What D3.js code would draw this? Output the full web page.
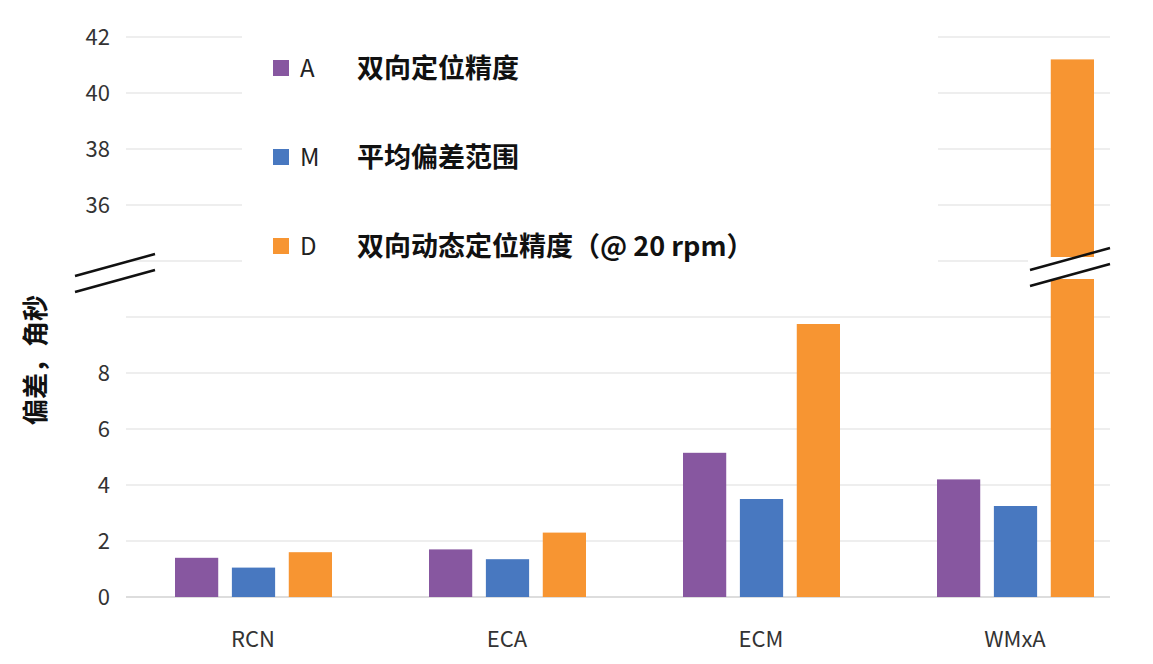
<!DOCTYPE html>
<html><head><meta charset="utf-8">
<script src="https://cdn.jsdelivr.net/npm/d3@7"></script>
<style>body{margin:0;background:#fff}text{font-family:"Noto Sans CJK SC","Noto Sans",sans-serif}</style>
</head><body><svg id="c" width="1153" height="664"></svg>
<script>
const categories = ['RCN', 'ECA', 'ECM', 'WMxA'];
const seriesKeys = ['A', 'M', 'D'];
const seriesNames = ['双向定位精度', '平均偏差范围', '双向动态定位精度（@ 20 rpm）'];
const valuesA = [1.4, 1.7, 5.15, 4.2];
const valuesM = [1.05, 1.35, 3.5, 3.25];
const valuesD = [1.6, 2.3, 9.75, 41.2];
const lowTicks = [0, 2, 4, 6, 8];
const highTicks = [36, 38, 40, 42];
const colors = ['#8757A0', '#4878C0', '#F79532'];

const svg = d3.select('#c');
// broken axis: values above the break are shifted down by 22
const gap = 22;
const disp = v => (v > 10 ? v - gap : v);
const y = d3.scaleLinear().domain([0, 20]).range([597, 37]);
const x = d3.scaleBand().domain(categories).range([126, 1142]);
const xs = d3.scaleBand().domain(seriesKeys).range([0, 157]).paddingInner(0.24);

const grids = [0, 2, 4, 6, 8, 10, 34, 36, 38, 40, 42];
svg.append('g').selectAll('line').data(grids).join('line')
  .attr('x1', 126).attr('x2', 1110)
  .attr('y1', d => y(disp(d))).attr('y2', d => y(disp(d)))
  .attr('stroke', d => d === 0 ? '#bbb' : '#ddd').attr('stroke-width', 1.2);

svg.append('g').selectAll('text').data(lowTicks.concat(highTicks)).join('text')
  .attr('x', 110).attr('y', d => y(disp(d)) + 8).attr('text-anchor', 'end')
  .attr('font-size', 22).attr('fill', '#333').text(d => d);

const series = [valuesA, valuesM, valuesD];
const g = svg.append('g');
series.forEach((vals, i) => {
  g.selectAll('.s' + i).data(vals).join('rect')
    .attr('x', (d, j) => x(categories[j]) + 49 + xs(seriesKeys[i]))
    .attr('width', xs.bandwidth())
    .attr('y', d => y(disp(d))).attr('height', d => 597 - y(disp(d)))
    .attr('fill', colors[i]);
});

svg.append('g').selectAll('text').data(categories).join('text')
  .attr('x', d => x(d) + 127).attr('y', 647).attr('text-anchor', 'middle')
  .attr('font-size', 22).attr('fill', '#333').text(d => d);

// legend
svg.append('rect').attr('x', 242).attr('y', 30).attr('width', 696).attr('height', 245).attr('fill', '#fff');
const lg = svg.append('g');
seriesKeys.forEach((k, i) => {
  const ly = 68 + i * 89;
  lg.append('rect').attr('x', 273).attr('y', ly - 8).attr('width', 16).attr('height', 16).attr('fill', colors[i]);
  lg.append('text').attr('x', 300).attr('y', ly + 9).attr('font-size', 24).attr('fill', '#222').text(k);
  lg.append('text').attr('x', 357).attr('y', ly + 10).attr('font-size', 27).attr('font-weight', 'bold').attr('fill', '#111').text(seriesNames[i]);
});

// break marks
function brk(x0, y0) {
  [0, 16].forEach(o => svg.append('line')
    .attr('x1', x0).attr('y1', y0 + o + 22).attr('x2', x0 + 80).attr('y2', y0 + o)
    .attr('stroke', '#111').attr('stroke-width', 2.5));
}
svg.append('rect').attr('x', 70).attr('y', 262).attr('width', 90).attr('height', 20).attr('fill', '#fff');
brk(75, 254);
svg.append('rect').attr('x', 1028).attr('y', 257).attr('width', 84).attr('height', 22).attr('fill', '#fff');
brk(1030, 248);

svg.append('text').attr('transform', 'translate(45,360) rotate(-90)').attr('text-anchor', 'middle')
  .attr('font-size', 26).attr('font-weight', 'bold').attr('fill', '#111').text('偏差，角秒');
</script></body></html>
